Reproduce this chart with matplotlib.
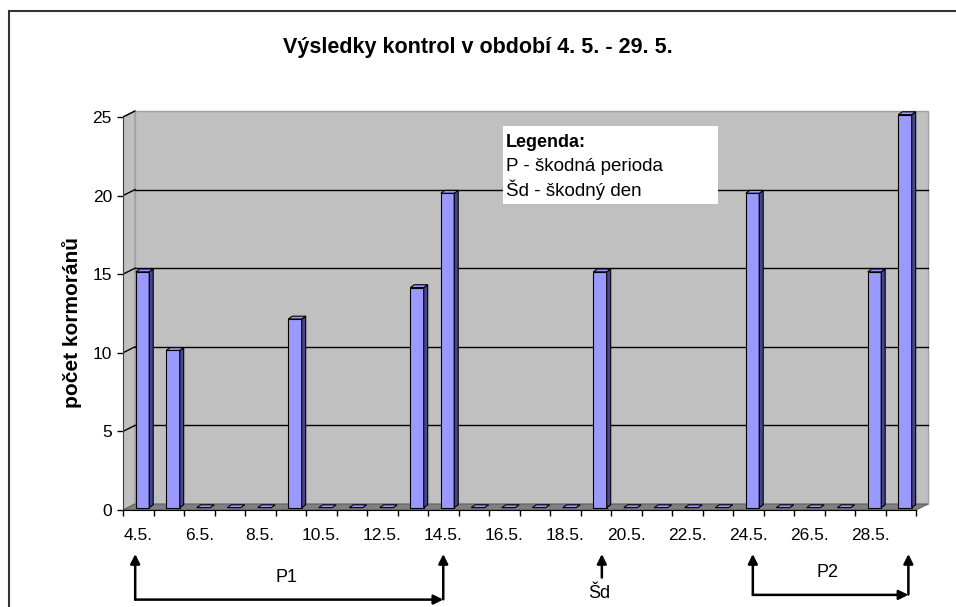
import matplotlib.pyplot as plt
from matplotlib.patches import Polygon, Rectangle

plt.rcParams['font.family'] = ['Liberation Sans', 'DejaVu Sans']

# data: cormorant counts per day (4.5. - 29.5.)
days = list(range(4, 30))
counts = [15, 10, 0, 0, 0, 12, 0, 0, 0, 14, 20, 0, 0, 0, 0,
          15, 0, 0, 0, 0, 20, 0, 0, 0, 15, 25]
tick_labels = [f'{d}.5.' for d in days[::2]]
yticks = [0, 5, 10, 15, 20, 25]

# damaging periods and damaging day
periods = [('P1', 4, 14), ('P2', 24, 29)]
bad_day = ('Šd', 19)

W, H = 956, 607
fig = plt.figure(figsize=(W / 100, H / 100), dpi=100)

# axes placed in pixels: x 0 at 123px (30.5 px/day), y 0 at 510px (15.72 px/unit)
ncat = len(days)
xmax, ymax = 26.6, 25.6
ax = fig.add_axes([123 / W, (H - 510) / H, xmax * 30.5 / W, ymax * 15.72 / H])
ax.set_xlim(0, xmax)
ax.set_ylim(0, ymax)

# 3d look: depth of the walls and of the bars
dx, dy = 0.39, 0.38
bdx, bdy = 0.13, 0.18
boff = 0.15

wall = '#C0C0C0'
edge = '#A0A0A0'
ax.add_patch(Polygon([(dx, dy), (ncat + dx, dy), (ncat + dx, 25 + dy), (dx, 25 + dy)],
                     closed=True, fc=wall, ec=edge, lw=1, zorder=1))
ax.add_patch(Polygon([(0, 0), (dx, dy), (dx, 25 + dy), (0, 25)],
                     closed=True, fc=wall, ec=edge, lw=1, zorder=1))
ax.add_patch(Polygon([(0, 0), (ncat, 0), (ncat + dx, dy), (dx, dy)],
                     closed=True, fc='#808080', ec='#606060', lw=0.8, zorder=2))

for v in yticks[1:-1]:
    ax.plot([dx, ncat + dx], [v + dy, v + dy], color='black', lw=1, zorder=2)
    ax.plot([0, dx], [v, v + dy], color='black', lw=1, zorder=2)
ax.plot([0, dx], [25, 25 + dy], color='black', lw=1, zorder=2)

# bars
front, side = '#9999FF', '#46468A'
for i, v in enumerate(counts):
    x0, x1 = i + 0.42, i + 0.86
    y0, y1 = boff, boff + v
    if v > 0:
        ax.add_patch(Polygon([(x0, y0), (x1, y0), (x1, y1), (x0, y1)],
                             closed=True, fc=front, ec='black', lw=0.8, zorder=4))
        ax.add_patch(Polygon([(x1, y0), (x1 + bdx, y0 + bdy), (x1 + bdx, y1 + bdy), (x1, y1)],
                             closed=True, fc=side, ec='black', lw=0.8, zorder=4))
    ax.add_patch(Polygon([(x0, y1), (x1, y1), (x1 + bdx, y1 + bdy), (x0 + bdx, y1 + bdy)],
                         closed=True, fc=front, ec='black', lw=0.8, zorder=4))

# axes
for s in ['top', 'right']:
    ax.spines[s].set_visible(False)
ax.spines['left'].set_bounds(0, 25)
ax.spines['bottom'].set_bounds(0, ncat)
ax.spines['left'].set_color('#404040')
ax.spines['left'].set_zorder(5)
ax.spines['bottom'].set_zorder(5)
ax.set_yticks(yticks)
ax.set_yticklabels([str(v) for v in yticks], fontsize=12.5)
ax.set_xticks(range(ncat + 1))
ax.set_xticklabels([])
ax.set_xticks([i + 0.5 for i in range(0, ncat, 2)], minor=True)
ax.set_xticklabels(tick_labels, minor=True, fontsize=12.5)
ax.tick_params(axis='both', which='major', length=4, width=1, direction='out')
ax.tick_params(axis='y', pad=4)
ax.tick_params(axis='x', which='minor', length=0, pad=13)
ax.set_ylabel('počet kormoránů', fontsize=15, fontweight='bold')
ax.yaxis.set_label_coords(-0.051, 0.465)

fig.text(478 / W, 1 - 48 / H, 'Výsledky kontrol v období 4. 5. - 29. 5.',
         ha='center', va='center', fontsize=15.5, fontweight='bold')

# legend box
ax.add_patch(Rectangle((12.46, 19.47), 7.05, 4.96, fc='white', ec='none', zorder=6))
ax.text(12.56, 23.4, 'Legenda:', fontsize=13, fontweight='bold', va='center', zorder=7)
ax.text(12.56, 21.88, 'P - škodná perioda', fontsize=13.5, va='center', zorder=7)
ax.text(12.56, 20.36, 'Šd - škodný den', fontsize=13.5, va='center', zorder=7)

# annotation arrows under the axis
aprops = dict(arrowstyle='-|>', color='black', lw=1.8, mutation_scale=14,
              shrinkA=0, shrinkB=0)
tip = -2.8
nudge = {4: -0.25, 14: -0.15, 19: 0.05, 24: 0.0, 29: 0.1}


def day_x(d):
    return days.index(d) + 0.65 + nudge.get(d, 0)


for name, d0, d1 in periods:
    base = -5.7 if name == 'P1' else -5.4
    xa, xb = day_x(d0), day_x(d1)
    ax.annotate('', xy=(xa, tip), xytext=(xa, base), arrowprops=aprops, annotation_clip=False)
    ax.annotate('', xy=(xb, base), xytext=(xa, base), arrowprops=aprops, annotation_clip=False)
    ax.annotate('', xy=(xb, tip), xytext=(xb, base + 0.02), arrowprops=aprops, annotation_clip=False)
    ax.text((xa + xb) / 2 - 0.1, base + 1.4, name, fontsize=13, ha='center', va='center',
            clip_on=False)

name, d = bad_day
xs = day_x(d)
ax.annotate('', xy=(xs, tip), xytext=(xs, -4.3), arrowprops=aprops, annotation_clip=False)
ax.text(xs - 0.1, -5.3, name, fontsize=13, ha='center', va='center', clip_on=False)

# outer frame of the chart
fig.add_artist(Rectangle((9 / W, -0.1), 2, 1 - 11 / H + 0.1, transform=fig.transFigure,
                         fill=False, ec='#333333', lw=1.5))

fig.savefig('out.png', dpi=100)
